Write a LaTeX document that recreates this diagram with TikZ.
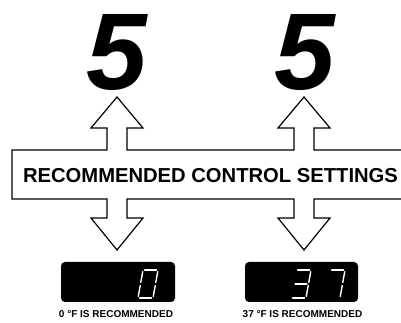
\documentclass[tikz,border=0pt]{standalone}
\usepackage{fontspec}
\setmainfont{Liberation Sans}
\usetikzlibrary{positioning}
\tikzset{
  outline/.style={draw=black,line width=1.2pt,line join=miter,fill=white},
  bignum/.style={font=\fontsize{109}{109}\selectfont\bfseries\itshape,inner sep=0pt,anchor=base},
  bandtxt/.style={font=\fontsize{20.2}{20.2}\selectfont\bfseries,inner sep=0pt,anchor=base},
  dispbox/.style={fill=black,rounded corners=4pt,inner sep=0pt},
  seg/.style={draw=white,line width=1.4pt,line cap=round,shorten <=1.6pt,shorten >=1.6pt},
  reclbl/.style={font=\fontsize{10}{10}\selectfont\bfseries,inner sep=0pt,anchor=base}
}
% seven segment digit: #1 name, #2 lower left x, #3 segments as from/to
\newcommand{\segdigit}[3]{%
  \coordinate (#1bl) at (#2,25);
  \coordinate (#1br) at (#2+15,25);
  \coordinate (#1ml) at (#2+2.5,39);
  \coordinate (#1mr) at (#2+17.5,39);
  \coordinate (#1tl) at (#2+5,53);
  \coordinate (#1tr) at (#2+20,53);
  \foreach \p/\q in {#3} \draw[seg] (#1\p) -- (#1\q);}

\begin{document}
\begin{tikzpicture}[x=1pt,y=1pt]
  \useasboundingbox (0,0) rectangle (401,323);
  \def\ua{117}
  \def\ub{304}

  % band with the four block arrows
  \draw[outline] (402,173) -- (\ub+10,173) -- (\ub+10,195) -- (\ub+26,195) -- (\ub,226)
    -- (\ub-26,195) -- (\ub-10,195) -- (\ub-10,173) -- (\ua+10,173) -- (\ua+10,195)
    -- (\ua+26,195) -- (\ua,226) -- (\ua-26,195) -- (\ua-10,195) -- (\ua-10,173)
    -- (12,173) -- (12,124) -- (\ua-10,124) -- (\ua-10,105) -- (\ua-26,105) -- (\ua,73)
    -- (\ua+26,105) -- (\ua+10,105) -- (\ua+10,124) -- (\ub-10,124) -- (\ub-10,105)
    -- (\ub-26,105) -- (\ub,73) -- (\ub+26,105) -- (\ub+10,105) -- (\ub+10,124) -- (402,124);

  \node[bandtxt] (title) at (210.5,140) {RECOMMENDED CONTROL SETTINGS};

  \node[bignum] (fiveL) at (117,233) {5};
  \node[bignum] (fiveR) at (305,233) {5};

  % displays
  \node[dispbox,minimum width=114pt,minimum height=40pt] (dispL) at (118,41) {};
  \node[dispbox,minimum width=113pt,minimum height=40pt] (dispR) at (301.5,41) {};

  \segdigit{z}{138}{tl/tr,tr/mr,mr/br,bl/br,ml/bl,tl/ml}
  \segdigit{t}{291}{tl/tr,tr/mr,mr/br,bl/br,ml/mr}
  \segdigit{s}{325}{tl/tr,tr/mr,mr/br}

  \node[reclbl] (recL) at (116,5) {0 \textdegree F IS RECOMMENDED};
  \node[reclbl] (recR) at (302.5,5) {37 \textdegree F IS RECOMMENDED};
\end{tikzpicture}
\end{document}
